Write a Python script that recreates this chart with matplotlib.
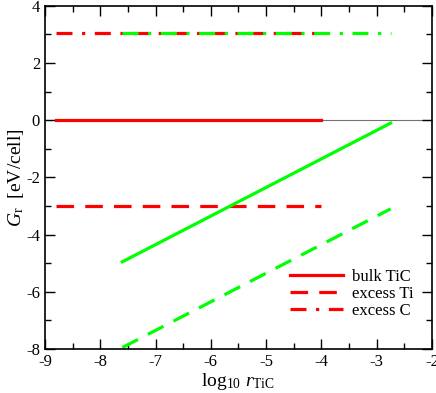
import numpy as np
import matplotlib.pyplot as plt
from matplotlib.ticker import MultipleLocator

plt.rcParams['font.family'] = ['Liberation Serif', 'DejaVu Serif']
plt.rcParams['mathtext.fontset'] = 'custom'
plt.rcParams['mathtext.rm'] = 'Liberation Serif'
plt.rcParams['mathtext.it'] = 'Liberation Serif:italic'
plt.rcParams['axes.unicode_minus'] = False

# red: TiC-side curves, green: other phase
red_x = [-8.8, -4.0]
bulk_red = [0.0, 0.0]
ti_red = [-3.0, -3.0]
c_red = [3.05, 3.05]

green_x = [-7.6, -2.75]
bulk_green = [-4.95, -0.1]
ti_green = [-7.95, -3.1]
c_green = [3.05, 3.05]

fig = plt.figure(figsize=(4.36, 3.93), dpi=100)
ax = fig.add_axes([0.103, 0.112, 0.888, 0.873])

ax.axhline(0, color='0.45', lw=0.8, zorder=1)

red = '#ff0000'
green = '#00ff00'
lw = 2.3
ax.plot(red_x, bulk_red, color=red, lw=lw, label='bulk TiC')
ax.plot(red_x, ti_red, color=red, lw=lw, dashes=(5.5, 3.5), label='excess Ti')
ax.plot(red_x, c_red, color=red, lw=lw, dashes=(5, 3, 1, 3), label='excess C')
ax.plot(green_x, bulk_green, color=green, lw=lw)
ax.plot(green_x, ti_green, color=green, lw=lw, dashes=(5.5, 3.5))
ax.plot(green_x, c_green, color=green, lw=lw, dashes=(5, 3, 1, 3))

ax.set_xlim(-9, -2)
ax.set_ylim(-8, 4)
ax.xaxis.set_major_locator(MultipleLocator(1))
ax.xaxis.set_minor_locator(MultipleLocator(0.5))
ax.yaxis.set_major_locator(MultipleLocator(2))
ax.yaxis.set_minor_locator(MultipleLocator(1))
ax.tick_params(which='both', direction='in', top=True, right=True, labelsize=12)
ax.tick_params(which='major', length=7, width=1)
ax.tick_params(which='minor', length=4, width=1)
for s in ax.spines.values():
    s.set_linewidth(1.2)

ax.set_xlabel(r'log$_{10}$ $r_{\rm TiC}$', fontsize=14, labelpad=1)
ax.set_ylabel(r'$G_{\rm r}$  [eV/cell]', fontsize=14, labelpad=0)

ax.legend(loc='lower right', bbox_to_anchor=(0.99, 0.045), frameon=False,
          fontsize=12, handlelength=3.2, labelspacing=0.05, handletextpad=0.5)

fig.savefig('out.png', dpi=100)
